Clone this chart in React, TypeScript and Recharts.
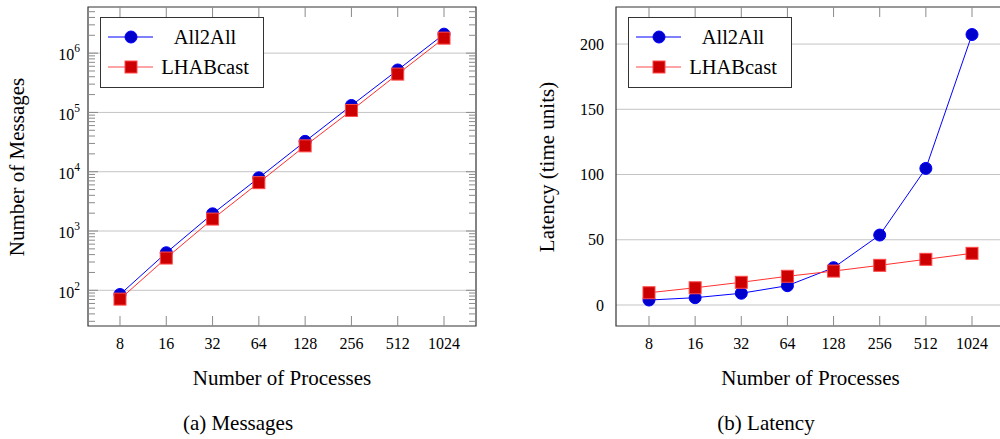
import { LineChart, Line, XAxis, YAxis, CartesianGrid, Legend, ReferenceArea } from 'recharts';

const processes = ['8', '16', '32', '64', '128', '256', '512', '1024'];
const msgAll2All = [85, 430, 1950, 7900, 32500, 131000, 520000, 2090000];
const msgLHABcast = [71, 350, 1590, 6540, 27300, 108000, 443000, 1790000];
const latAll2All = [3.8, 5.6, 9, 14.8, 28.6, 53.6, 104.7, 207.3];
const latLHABcast = [9.4, 13.2, 17.4, 22, 26, 30.4, 35, 39.6];
const msgTicks = [1e2, 1e3, 1e4, 1e5, 1e6];
const latTicks = [0, 50, 100, 150, 200];
const seriesNames = ['All2All', 'LHABcast'];

const FONT = '"Liberation Serif", "Times New Roman", serif';
const GRID = '#c4c4c4';
const TICK = '#8a8a8a';
const BOX = '#333';
const PLOT_TOP = 7;
const PLOT_BOTTOM = 326;

const msgData = processes.map((p, i) => ({ idx: i, name: p, all2all: msgAll2All[i], lhab: msgLHABcast[i] }));
const latData = processes.map((p, i) => ({ idx: i, name: p, all2all: latAll2All[i], lhab: latLHABcast[i] }));

const msgDomain = [25, 6.0e6];
const latDomain = [-16.1, 228.4];

// minor ticks on the log axis (2..9 x 10^k) inside the domain
const minorTicks: number[] = [];
for (let e = 1; e <= 6; e++) {
  for (let k = 2; k <= 9; k++) {
    const v = k * Math.pow(10, e);
    if (v > msgDomain[0] && v < msgDomain[1]) minorTicks.push(v);
  }
}

const Circle = (props: any) => {
  const { cx, cy, index } = props;
  if (cx == null || cy == null) return null;
  return <circle key={`c-${index}`} cx={cx} cy={cy} r={6} fill="#0000cc" stroke="#0000ff" strokeWidth={1} />;
};

const Square = (props: any) => {
  const { cx, cy, index } = props;
  if (cx == null || cy == null) return null;
  return <rect key={`s-${index}`} x={cx - 6} y={cy - 6} width={12} height={12} fill="#cc0000" stroke="#ff4a4a" strokeWidth={1} />;
};

const makeXTick = () => (props: any) => {
  const { x, payload } = props;
  return (
    <g>
      <line x1={x} x2={x} y1={PLOT_BOTTOM} y2={PLOT_BOTTOM - 10} stroke={TICK} />
      <line x1={x} x2={x} y1={PLOT_TOP} y2={PLOT_TOP + 10} stroke={TICK} />
      <text x={x} y={343} dy="0.35em" textAnchor="middle" fontFamily={FONT} fontSize={16} fill="#000">
        {processes[payload.value]}
      </text>
    </g>
  );
};

const makeLogTick = (left: number, right: number) => (props: any) => {
  const { y, payload } = props;
  const v = payload.value;
  const e = Math.round(Math.log10(v));
  const major = Math.abs(Math.pow(10, e) - v) < 1e-6 * v;
  if (!major) {
    return (
      <g>
        <line x1={left} x2={left + 7} y1={y} y2={y} stroke={TICK} />
        <line x1={right} x2={right - 7} y1={y} y2={y} stroke={TICK} />
      </g>
    );
  }
  return (
    <g>
      <line x1={left} x2={left + 10} y1={y} y2={y} stroke={TICK} />
      <line x1={right} x2={right - 10} y1={y} y2={y} stroke={TICK} />
      <text x={left - 8} y={y} dy="0.45em" textAnchor="end" fontFamily={FONT} fontSize={16} fill="#000">
        10<tspan dy={-8} fontSize={11.5}>{e}</tspan>
      </text>
    </g>
  );
};

const makeLinTick = (left: number) => (props: any) => {
  const { y, payload } = props;
  return (
    <text x={left - 12} y={y} dy="0.35em" textAnchor="end" fontFamily={FONT} fontSize={16} fill="#000">
      {payload.value}
    </text>
  );
};

const LegendBox = () => (
  <div style={{ width: 164, height: 71, border: `1px solid ${BOX}`, background: '#fff', boxSizing: 'border-box' }}>
    <svg width={162} height={69} style={{ display: 'block' }}>
      <line x1={7} x2={52} y1={19} y2={19} stroke="#0000ff" />
      <circle cx={30} cy={19} r={6} fill="#0000cc" stroke="#0000ff" />
      <text x={104} y={19} dy="0.35em" textAnchor="middle" fontFamily={FONT} fontSize={20.5}>{seriesNames[0]}</text>
      <line x1={7} x2={52} y1={49} y2={49} stroke="#ff4a4a" />
      <rect x={24} y={43} width={12} height={12} fill="#cc0000" stroke="#ff4a4a" />
      <text x={104} y={49} dy="0.35em" textAnchor="middle" fontFamily={FONT} fontSize={20.5}>{seriesNames[1]}</text>
    </svg>
  </div>
);

const axisTitles = (title: string, caption: string, captionX: number) => (props: any) => {
  const vb = props.viewBox;
  return (
    <g fontFamily={FONT} fill="#000">
      <text x={vb.x + vb.width / 2} y={378} dy="0.35em" textAnchor="middle" fontSize={21}>{title}</text>
      <text x={captionX} y={423} dy="0.35em" textAnchor="middle" fontSize={21}>{caption}</text>
    </g>
  );
};

const yTitle = (title: string, x: number) => () => (
  <text x={x} y={167} dy="0.35em" textAnchor="middle" fontFamily={FONT} fontSize={21} fill="#000" transform={`rotate(-90 ${x} 167)`}>
    {title}
  </text>
);

export default function App() {
  return (
    <div style={{ position: 'absolute', left: 0, top: 0, width: 1000, height: 439, overflow: 'hidden', background: '#fff' }}>
      <div style={{ position: 'absolute', left: 0, top: 0 }}>
        <LineChart width={500} height={439} data={msgData} margin={{ top: PLOT_TOP, right: 24, bottom: 0, left: 0 }}>
          <CartesianGrid vertical={false} stroke={GRID} horizontalValues={msgTicks} />
          <XAxis
            dataKey="idx"
            type="number"
            domain={[-0.691, 7.691]}
            ticks={[0, 1, 2, 3, 4, 5, 6, 7]}
            height={113}
            axisLine={false}
            tickLine={false}
            tick={makeXTick()}
            label={{ content: axisTitles('Number of Processes', '(a) Messages', 238) } as any}
          />
          <YAxis
            scale="log"
            type="number"
            domain={msgDomain}
            allowDataOverflow
            ticks={[...msgTicks, ...minorTicks]}
            width={88}
            axisLine={false}
            tickLine={false}
            tick={makeLogTick(88, 476)}
            interval={0}
            label={{ content: yTitle('Number of Messages', 17) } as any}
          />
          <ReferenceArea x1={-0.691} x2={7.691} y1={msgDomain[0]} y2={msgDomain[1]} fill="none" stroke={BOX} strokeWidth={1.2} ifOverflow="visible" />
          <Line dataKey="all2all" stroke="#0000ff" strokeWidth={1} dot={Circle} isAnimationActive={false} />
          <Line dataKey="lhab" stroke="#ff3030" strokeWidth={1} dot={Square} isAnimationActive={false} />
          <Legend content={LegendBox} layout="horizontal" verticalAlign="middle" align="center" wrapperStyle={{ left: 100, top: 17, width: 164 }} />
        </LineChart>
      </div>
      <div style={{ position: 'absolute', left: 500, top: 0 }}>
        <LineChart width={510} height={439} data={latData} margin={{ top: PLOT_TOP, right: 5, bottom: 0, left: 0 }}>
          <CartesianGrid vertical={false} stroke={GRID} horizontalValues={latTicks} />
          <XAxis
            dataKey="idx"
            type="number"
            domain={[-0.715, 7.715]}
            ticks={[0, 1, 2, 3, 4, 5, 6, 7]}
            height={113}
            axisLine={false}
            tickLine={false}
            tick={makeXTick()}
            label={{ content: axisTitles('Number of Processes', '(b) Latency', 266) } as any}
          />
          <YAxis
            type="number"
            domain={latDomain}
            allowDataOverflow
            ticks={latTicks}
            width={116}
            axisLine={false}
            tickLine={false}
            tick={makeLinTick(116)}
            label={{ content: yTitle('Latency (time units)', 47) } as any}
          />
          <ReferenceArea x1={-0.715} x2={7.715} y1={latDomain[0]} y2={latDomain[1]} fill="none" stroke={BOX} strokeWidth={1.2} ifOverflow="visible" />
          <Line dataKey="all2all" stroke="#0000ff" strokeWidth={1} dot={Circle} isAnimationActive={false} />
          <Line dataKey="lhab" stroke="#ff3030" strokeWidth={1} dot={Square} isAnimationActive={false} />
          <Legend content={LegendBox} layout="horizontal" verticalAlign="middle" align="center" wrapperStyle={{ left: 128, top: 17, width: 164 }} />
        </LineChart>
      </div>
    </div>
  );
}
